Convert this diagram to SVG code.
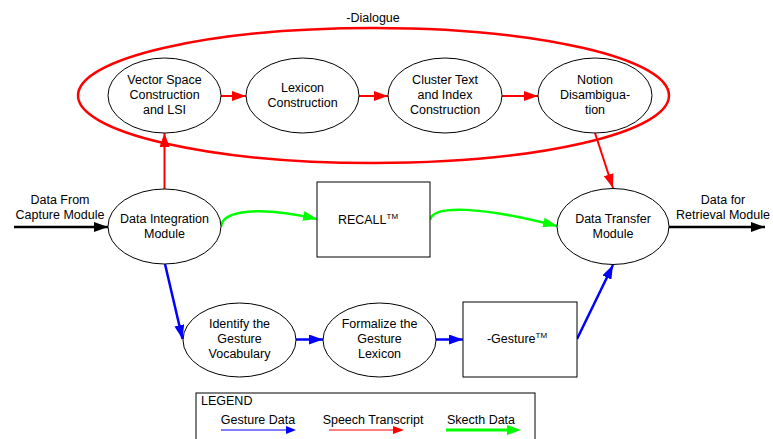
<svg xmlns="http://www.w3.org/2000/svg" width="773" height="439" viewBox="0 0 773 439">
<style>
text{font-family:"Liberation Sans",Arial,sans-serif;font-size:12.5px;fill:#000;text-anchor:middle}
.node{fill:#fff;stroke:#000;stroke-width:1}
.r{fill:none;stroke:#f00;stroke-width:2}
.g{fill:none;stroke:#0f0;stroke-width:2.5}
.b{fill:none;stroke:#00f;stroke-width:2.5}
.k{fill:none;stroke:#000;stroke-width:2.5}
.sup{font-size:8px}
</style>
<defs>
<marker id="arL" markerWidth="14" markerHeight="10" refX="14" refY="5" orient="auto" markerUnits="userSpaceOnUse"><path d="M0,0L14,5L0,10z" fill="#f00"/></marker>
<marker id="ag" markerWidth="14" markerHeight="10" refX="14" refY="5" orient="auto" markerUnits="userSpaceOnUse"><path d="M0,0L14,5L0,10z" fill="#0f0"/></marker>
<marker id="ab" markerWidth="14" markerHeight="10" refX="14" refY="5" orient="auto" markerUnits="userSpaceOnUse"><path d="M0,0L14,5L0,10z" fill="#00f"/></marker>
<marker id="ak" markerWidth="14" markerHeight="10" refX="14" refY="5" orient="auto" markerUnits="userSpaceOnUse"><path d="M0,0L14,5L0,10z" fill="#000"/></marker>
</defs>
<rect width="773" height="439" fill="#fff"/>

<g id="dialogue">
<ellipse cx="373.5" cy="95.5" rx="295.5" ry="67.5" fill="none" stroke="#f00" stroke-width="2.5"/>
<text x="373" y="22">-Dialogue</text>
</g>

<g id="connectors">
<line class="r" x1="221" y1="96" x2="246" y2="96" marker-end="url(#arL)"/>
<line class="r" x1="359" y1="96" x2="388" y2="96" marker-end="url(#arL)"/>
<line class="r" x1="502" y1="96" x2="538" y2="96" marker-end="url(#arL)"/>
<line class="r" x1="164.5" y1="189" x2="164.5" y2="133" marker-end="url(#arL)"/>
<line class="r" x1="595" y1="133" x2="613" y2="188" marker-end="url(#arL)"/>
<path class="g" d="M221,227 C222,210 260,206 317,219" marker-end="url(#ag)"/>
<path class="g" d="M430,220 C433,205 480,206 557,226" marker-end="url(#ag)"/>
<line class="b" x1="165" y1="264" x2="182.5" y2="339" marker-end="url(#ab)"/>
<line class="b" x1="296" y1="339.5" x2="323" y2="339.5" marker-end="url(#ab)"/>
<line class="b" x1="436" y1="339.5" x2="463" y2="339.5" marker-end="url(#ab)"/>
<line class="b" x1="577" y1="339" x2="613" y2="265" marker-end="url(#ab)"/>
<line class="k" x1="14" y1="227" x2="108" y2="227" marker-end="url(#ak)"/>
<line class="k" x1="669" y1="227" x2="765" y2="227" marker-end="url(#ak)"/>
</g>

<g id="vector-space">
<ellipse class="node" cx="164.5" cy="95.5" rx="56.5" ry="37.5"/>
<text x="164.5" y="84">Vector Space</text>
<text x="164.5" y="99">Construction</text>
<text x="164.5" y="114">and LSI</text>
</g>
<g id="lexicon">
<ellipse class="node" cx="302.5" cy="95.5" rx="56.5" ry="37.5"/>
<text x="302.5" y="92">Lexicon</text>
<text x="302.5" y="107">Construction</text>
</g>
<g id="cluster">
<ellipse class="node" cx="445" cy="95.5" rx="57" ry="37.5"/>
<text x="445" y="84">Cluster Text</text>
<text x="445" y="99">and Index</text>
<text x="445" y="114">Construction</text>
</g>
<g id="notion">
<ellipse class="node" cx="595" cy="95.5" rx="57" ry="37.5"/>
<text x="595" y="84">Notion</text>
<text x="595" y="99">Disambigua-</text>
<text x="595" y="114">tion</text>
</g>

<g id="data-integration">
<ellipse class="node" cx="164.5" cy="226.5" rx="56.5" ry="37.5"/>
<text x="164.5" y="223">Data Integration</text>
<text x="164.5" y="238">Module</text>
</g>
<g id="recall">
<rect class="node" x="317" y="182" width="113" height="75"/>
<text x="368" y="224">RECALL<tspan class="sup" dy="-5">TM</tspan></text>
</g>
<g id="data-transfer">
<ellipse class="node" cx="613" cy="226.5" rx="56" ry="38"/>
<text x="613" y="223">Data Transfer</text>
<text x="613" y="238">Module</text>
</g>

<g id="input-label">
<text x="60" y="204">Data From</text>
<text x="60" y="219">Capture Module</text>
</g>
<g id="output-label">
<text x="723" y="204">Data for</text>
<text x="723" y="219">Retrieval Module</text>
</g>

<g id="identify">
<ellipse class="node" cx="239.5" cy="340" rx="56.5" ry="37"/>
<text x="239.5" y="328">Identify the</text>
<text x="239.5" y="343">Gesture</text>
<text x="239.5" y="358">Vocabulary</text>
</g>
<g id="formalize">
<ellipse class="node" cx="379.5" cy="340" rx="56.5" ry="37"/>
<text x="379.5" y="328">Formalize the</text>
<text x="379.5" y="343">Gesture</text>
<text x="379.5" y="358">Lexicon</text>
</g>
<g id="gesture">
<rect class="node" x="463" y="302" width="114" height="75"/>
<text x="517" y="343">-Gesture<tspan class="sup" dy="-5">TM</tspan></text>
</g>

<g id="legend">
<rect x="196" y="393" width="339" height="60" fill="#fff" stroke="#000" stroke-width="1"/>
<text x="201" y="405" style="text-anchor:start">LEGEND</text>
<text x="258" y="424">Gesture Data</text>
<text x="373" y="424">Speech Transcript</text>
<text x="481" y="424">Skecth Data</text>
<line x1="221" y1="430" x2="288" y2="430" stroke="#00f" stroke-width="1"/>
<path d="M286,426L296,430L286,434z" fill="#00f"/>
<line x1="329" y1="430" x2="396" y2="430" stroke="#f00" stroke-width="1"/>
<path d="M393,426L404,430L393,434z" fill="#f00"/>
<line x1="446" y1="430" x2="510" y2="430" stroke="#0f0" stroke-width="3"/>
<path d="M507,425L521,430L507,435z" fill="#0f0"/>
</g>
</svg>
